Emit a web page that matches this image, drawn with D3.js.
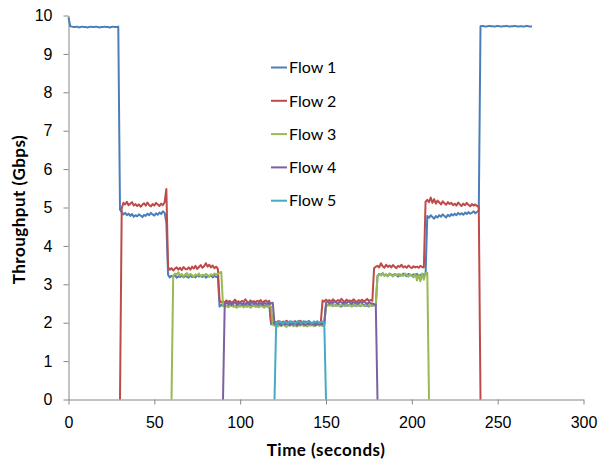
<!DOCTYPE html>
<html>
<head>
<meta charset="utf-8">
<script src="https://cdn.jsdelivr.net/npm/d3@7"></script>
<style>
  body { margin: 0; background: #fff; }
  svg { display: block; font-family: Lato, "Open Sans", sans-serif; }
  .axis path, .axis line { stroke: #868686; }
  .axis text { fill: #000; font-size: 16px; }
  .title { font-size: 17px; font-weight: bold; letter-spacing: 0.5px; }
</style>
</head>
<body>
<div id="chart"></div>
<script>
// one sample per second, each series starts at its own start time
var flow_names = ['Flow 1', 'Flow 2', 'Flow 3', 'Flow 4', 'Flow 5'];
var flow_colors = ['#4a7ebb', '#be4b48', '#98b954', '#7d60a0', '#46aac5'];
var flow_starts = [0, 30, 60, 90, 120];

var x_ticks = [0, 50, 100, 150, 200, 250, 300];
var y_ticks = [0, 1, 2, 3, 4, 5, 6, 7, 8, 9, 10];

var flow1 = [
    9.95, 9.72, 9.71, 9.70, 9.70, 9.71, 9.69, 9.70, 9.71, 9.70,   // 0
    9.70, 9.69, 9.70, 9.71, 9.70, 9.70, 9.71, 9.70, 9.69, 9.70,   // 10
    9.70, 9.71, 9.70, 9.70, 9.69, 9.70, 9.71, 9.70, 9.70, 9.71,   // 20
    4.95, 4.88, 4.82, 4.86, 4.80, 4.84, 4.78, 4.83, 4.76, 4.80,   // 30
    4.77, 4.82, 4.79, 4.75, 4.81, 4.78, 4.84, 4.80, 4.86, 4.82,   // 40
    4.79, 4.85, 4.81, 4.87, 4.83, 4.90, 4.86, 4.60, 3.25, 3.18,   // 50
    3.22, 3.20, 3.24, 3.17, 3.21, 3.19, 3.23, 3.18, 3.22, 3.20,   // 60
    3.17, 3.23, 3.19, 3.21, 3.18, 3.24, 3.20, 3.22, 3.19, 3.23,   // 70
    3.17, 3.21, 3.20, 3.24, 3.18, 3.22, 3.19, 3.21, 2.42, 2.46,   // 80
    2.44, 2.47, 2.43, 2.45, 2.48, 2.44, 2.46, 2.42, 2.45, 2.47,   // 90
    2.43, 2.46, 2.44, 2.48, 2.45, 2.43, 2.46, 2.44, 2.47, 2.45,   // 100
    2.42, 2.46, 2.44, 2.47, 2.45, 2.43, 2.46, 2.44, 1.96, 1.98,   // 110
    1.95, 1.99, 1.97, 1.96, 2.00, 1.97, 1.95, 1.98, 1.96, 1.99,   // 120
    1.97, 1.95, 1.98, 1.96, 2.00, 1.97, 1.95, 1.98, 1.96, 1.99,   // 130
    1.97, 1.96, 1.98, 1.95, 1.99, 1.97, 1.96, 1.98, 1.97, 1.99,   // 140
    2.44, 2.47, 2.45, 2.48, 2.43, 2.46, 2.44, 2.47, 2.45, 2.42,   // 150
    2.46, 2.48, 2.44, 2.45, 2.47, 2.43, 2.46, 2.44, 2.48, 2.45,   // 160
    2.43, 2.46, 2.47, 2.44, 2.45, 2.42, 2.46, 2.44, 2.47, 2.45,   // 170
    3.22, 3.27, 3.24, 3.29, 3.23, 3.26, 3.21, 3.28, 3.25, 3.22,   // 180
    3.27, 3.24, 3.20, 3.26, 3.23, 3.28, 3.25, 3.21, 3.27, 3.24,   // 190
    3.22, 3.26, 3.23, 3.27, 3.21, 3.25, 3.23, 3.26, 3.24, 4.78,   // 200
    4.73, 4.80, 4.75, 4.71, 4.78, 4.74, 4.80, 4.76, 4.82, 4.78,   // 210
    4.74, 4.81, 4.77, 4.83, 4.79, 4.84, 4.80, 4.86, 4.82, 4.85,   // 220
    4.81, 4.87, 4.83, 4.88, 4.84, 4.86, 4.90, 4.85, 4.89, 4.92,   // 230
    9.72, 9.73, 9.72, 9.71, 9.72, 9.73, 9.72, 9.72, 9.71, 9.72,   // 240
    9.73, 9.72, 9.71, 9.72, 9.72, 9.73, 9.72, 9.71, 9.72, 9.72,   // 250
    9.73, 9.72, 9.71, 9.72, 9.72, 9.71, 9.72, 9.73, 9.72, 9.71,   // 260
    9.72                                                          // 270
];

var flow2 = [
    0,    4.98, 5.12, 5.08, 5.15, 5.06, 5.10, 5.14, 5.05, 5.09,   // 30
    5.04, 5.08, 5.02, 5.07, 5.11, 5.05, 5.13, 5.06, 5.03, 5.09,   // 40
    5.05, 5.12, 5.08, 5.04, 5.10, 5.06, 5.14, 5.48, 3.45, 3.38,   // 50
    3.42, 3.36, 3.41, 3.44, 3.38, 3.43, 3.37, 3.45, 3.40, 3.39,   // 60
    3.44, 3.38, 3.46, 3.41, 3.48, 3.40, 3.45, 3.50, 3.43, 3.47,   // 70
    3.55, 3.46, 3.51, 3.44, 3.49, 3.42, 3.46, 3.40, 2.58, 2.53,   // 80
    2.56, 2.52, 2.58, 2.54, 2.57, 2.51, 2.55, 2.60, 2.53, 2.56,   // 90
    2.52, 2.57, 2.54, 2.61, 2.55, 2.52, 2.58, 2.54, 2.56, 2.53,   // 100
    2.57, 2.55, 2.59, 2.52, 2.56, 2.58, 2.54, 2.57, 2.02, 2.00,   // 110
    2.03, 1.99, 2.04, 2.01, 1.98, 2.03, 2.00, 2.05, 2.01, 1.99,   // 120
    2.03, 2.00, 2.04, 1.98, 2.02, 2.05, 2.01, 1.99, 2.03, 2.00,   // 130
    2.04, 2.01, 1.98, 2.03, 2.00, 2.02, 1.99, 2.02, 2.58, 2.55,   // 140
    2.60, 2.56, 2.59, 2.54, 2.61, 2.57, 2.55, 2.59, 2.56, 2.62,   // 150
    2.57, 2.54, 2.60, 2.56, 2.58, 2.55, 2.61, 2.57, 2.54, 2.59,   // 160
    2.56, 2.60, 2.55, 2.58, 2.62, 2.56, 2.59, 2.57, 3.42, 3.46,   // 170
    3.48, 3.44, 3.55, 3.47, 3.43, 3.51, 3.45, 3.49, 3.44, 3.50,   // 180
    3.46, 3.42, 3.48, 3.45, 3.51, 3.44, 3.47, 3.43, 3.49, 3.45,   // 190
    3.42, 3.47, 3.44, 3.46, 3.43, 3.48, 3.45, 3.44, 5.15, 5.20,   // 200
    5.14, 5.26, 5.12, 5.22, 5.10, 5.18, 5.13, 5.08, 5.16, 5.11,   // 210
    5.07, 5.14, 5.09, 5.12, 5.06, 5.10, 5.05, 5.13, 5.08, 5.04,   // 220
    5.10, 5.06, 5.12, 5.07, 5.03, 5.09, 5.05, 5.08, 5.04, 5.02,   // 230
    0                                                             // 240
];

var flow3 = [
    0,    3.22, 3.28, 3.25, 3.31, 3.23, 3.27, 3.20, 3.26, 3.29,   // 60
    3.22, 3.27, 3.24, 3.19, 3.26, 3.23, 3.28, 3.21, 3.25, 3.22,   // 70
    3.27, 3.24, 3.20, 3.26, 3.23, 3.28, 3.25, 3.27, 3.30, 3.32,   // 80
    2.45, 2.41, 2.44, 2.40, 2.43, 2.46, 2.41, 2.44, 2.39, 2.43,   // 90
    2.42, 2.45, 2.40, 2.43, 2.41, 2.44, 2.39, 2.42, 2.45, 2.41,   // 100
    2.43, 2.40, 2.44, 2.42, 2.39, 2.43, 2.41, 2.44, 2.42, 1.95,   // 110
    1.92, 1.95, 1.90, 1.94, 1.91, 1.96, 1.92, 1.89, 1.94, 1.92,   // 120
    1.95, 1.91, 1.93, 1.90, 1.94, 1.92, 1.96, 1.91, 1.93, 1.90,   // 130
    1.94, 1.92, 1.95, 1.91, 1.93, 1.96, 1.92, 1.94, 1.91, 1.93,   // 140
    2.47, 2.44, 2.48, 2.45, 2.43, 2.47, 2.44, 2.46, 2.42, 2.47,   // 150
    2.45, 2.43, 2.48, 2.44, 2.46, 2.42, 2.45, 2.47, 2.43, 2.46,   // 160
    2.44, 2.47, 2.43, 2.45, 2.48, 2.44, 2.46, 2.43, 2.45, 2.47,   // 170
    3.20, 3.26, 3.23, 3.28, 3.22, 3.25, 3.21, 3.27, 3.24, 3.20,   // 180
    3.26, 3.23, 3.27, 3.21, 3.25, 3.22, 3.28, 3.24, 3.20, 3.26,   // 190
    3.22, 3.18, 3.27, 3.10, 3.25, 3.08, 3.28, 3.12, 3.29, 3.30,   // 200
    0                                                             // 210
];

var flow4 = [
    0,    2.48, 2.52, 2.49, 2.54, 2.47, 2.51, 2.53, 2.48, 2.50,   // 90
    2.52, 2.47, 2.51, 2.49, 2.53, 2.48, 2.50, 2.54, 2.49, 2.51,   // 100
    2.48, 2.52, 2.50, 2.47, 2.53, 2.49, 2.51, 2.52, 2.50, 2.52,   // 110
    1.97, 1.95, 1.99, 1.96, 1.93, 1.98, 1.95, 2.00, 1.96, 1.94,   // 120
    1.98, 1.95, 1.99, 1.93, 1.97, 1.95, 1.99, 1.96, 1.94, 1.98,   // 130
    1.96, 1.99, 1.95, 1.97, 1.93, 1.98, 1.96, 1.95, 1.97, 1.98,   // 140
    2.52, 2.55, 2.50, 2.54, 2.51, 2.56, 2.52, 2.49, 2.55, 2.53,   // 150
    2.50, 2.54, 2.51, 2.56, 2.52, 2.49, 2.54, 2.51, 2.53, 2.50,   // 160
    2.54, 2.51, 2.55, 2.52, 2.49, 2.53, 2.51, 2.50, 2.48, 2.47,   // 170
    0                                                             // 180
];

var flow5 = [
    0,    2.02, 1.98, 2.04, 2.00, 1.97, 2.03, 2.01, 1.98, 2.04,   // 120
    2.00, 2.03, 1.97, 2.02, 2.05, 1.99, 2.01, 2.04, 1.98, 2.02,   // 130
    2.05, 2.00, 1.98, 2.03, 2.01, 2.04, 1.99, 2.02, 2.03, 2.00,   // 140
    0                                                             // 150
];

var flows = [flow1, flow2, flow3, flow4, flow5];

var width = 599, height = 462;

var svg = d3.select('#chart').append('svg')
    .attr('width', width)
    .attr('height', height);

var x = d3.scaleLinear()
    .domain([0, 300])
    .range([68.5, 583.5]);

var y = d3.scaleLinear()
    .domain([0, 10])
    .range([399.5, 15.5]);

// axes
svg.append('g')
    .attr('class', 'axis')
    .attr('transform', 'translate(0,' + y(0) + ')')
    .call(d3.axisBottom(x).tickValues(x_ticks).tickSize(5).tickSizeOuter(0).tickPadding(12));

svg.append('g')
    .attr('class', 'axis')
    .attr('transform', 'translate(' + x(0) + ',0)')
    .call(d3.axisLeft(y).tickValues(y_ticks).tickSize(5).tickSizeOuter(0).tickPadding(11));

svg.selectAll('.axis .domain').attr('stroke', '#868686');

// series
var line = d3.line()
    .x(function(d) { return x(d[0]); })
    .y(function(d) { return y(d[1]); });

flows.forEach(function(values, i) {
    var pts = values.map(function(v, j) { return [flow_starts[i] + j, v]; });
    svg.append('path')
        .datum(pts)
        .attr('fill', 'none')
        .attr('stroke', flow_colors[i])
        .attr('stroke-width', 2)
        .attr('stroke-linejoin', 'round')
        .attr('d', line);
});

// legend
var legend = svg.append('g')
    .selectAll('g')
    .data(flow_names)
    .enter()
    .append('g')
        .attr('transform', function(d, i) { return 'translate(271,' + (67.5 + i * 33.3) + ')'; });

legend.append('line')
    .attr('x1', 0).attr('x2', 16)
    .attr('stroke', function(d, i) { return flow_colors[i]; })
    .attr('stroke-width', 2);

legend.append('text')
    .attr('x', 18)
    .attr('dy', '0.36em')
    .style('font-size', '16px')
    .text(function(d) { return d; });

// axis titles
svg.append('text')
    .attr('class', 'title')
    .attr('x', 326)
    .attr('y', 455.5)
    .attr('text-anchor', 'middle')
    .text('Time (seconds)');

svg.append('text')
    .attr('class', 'title')
    .attr('transform', 'translate(24.5,209.5) rotate(-90)')
    .attr('text-anchor', 'middle')
    .text('Throughput (Gbps)');
</script>
</body>
</html>
